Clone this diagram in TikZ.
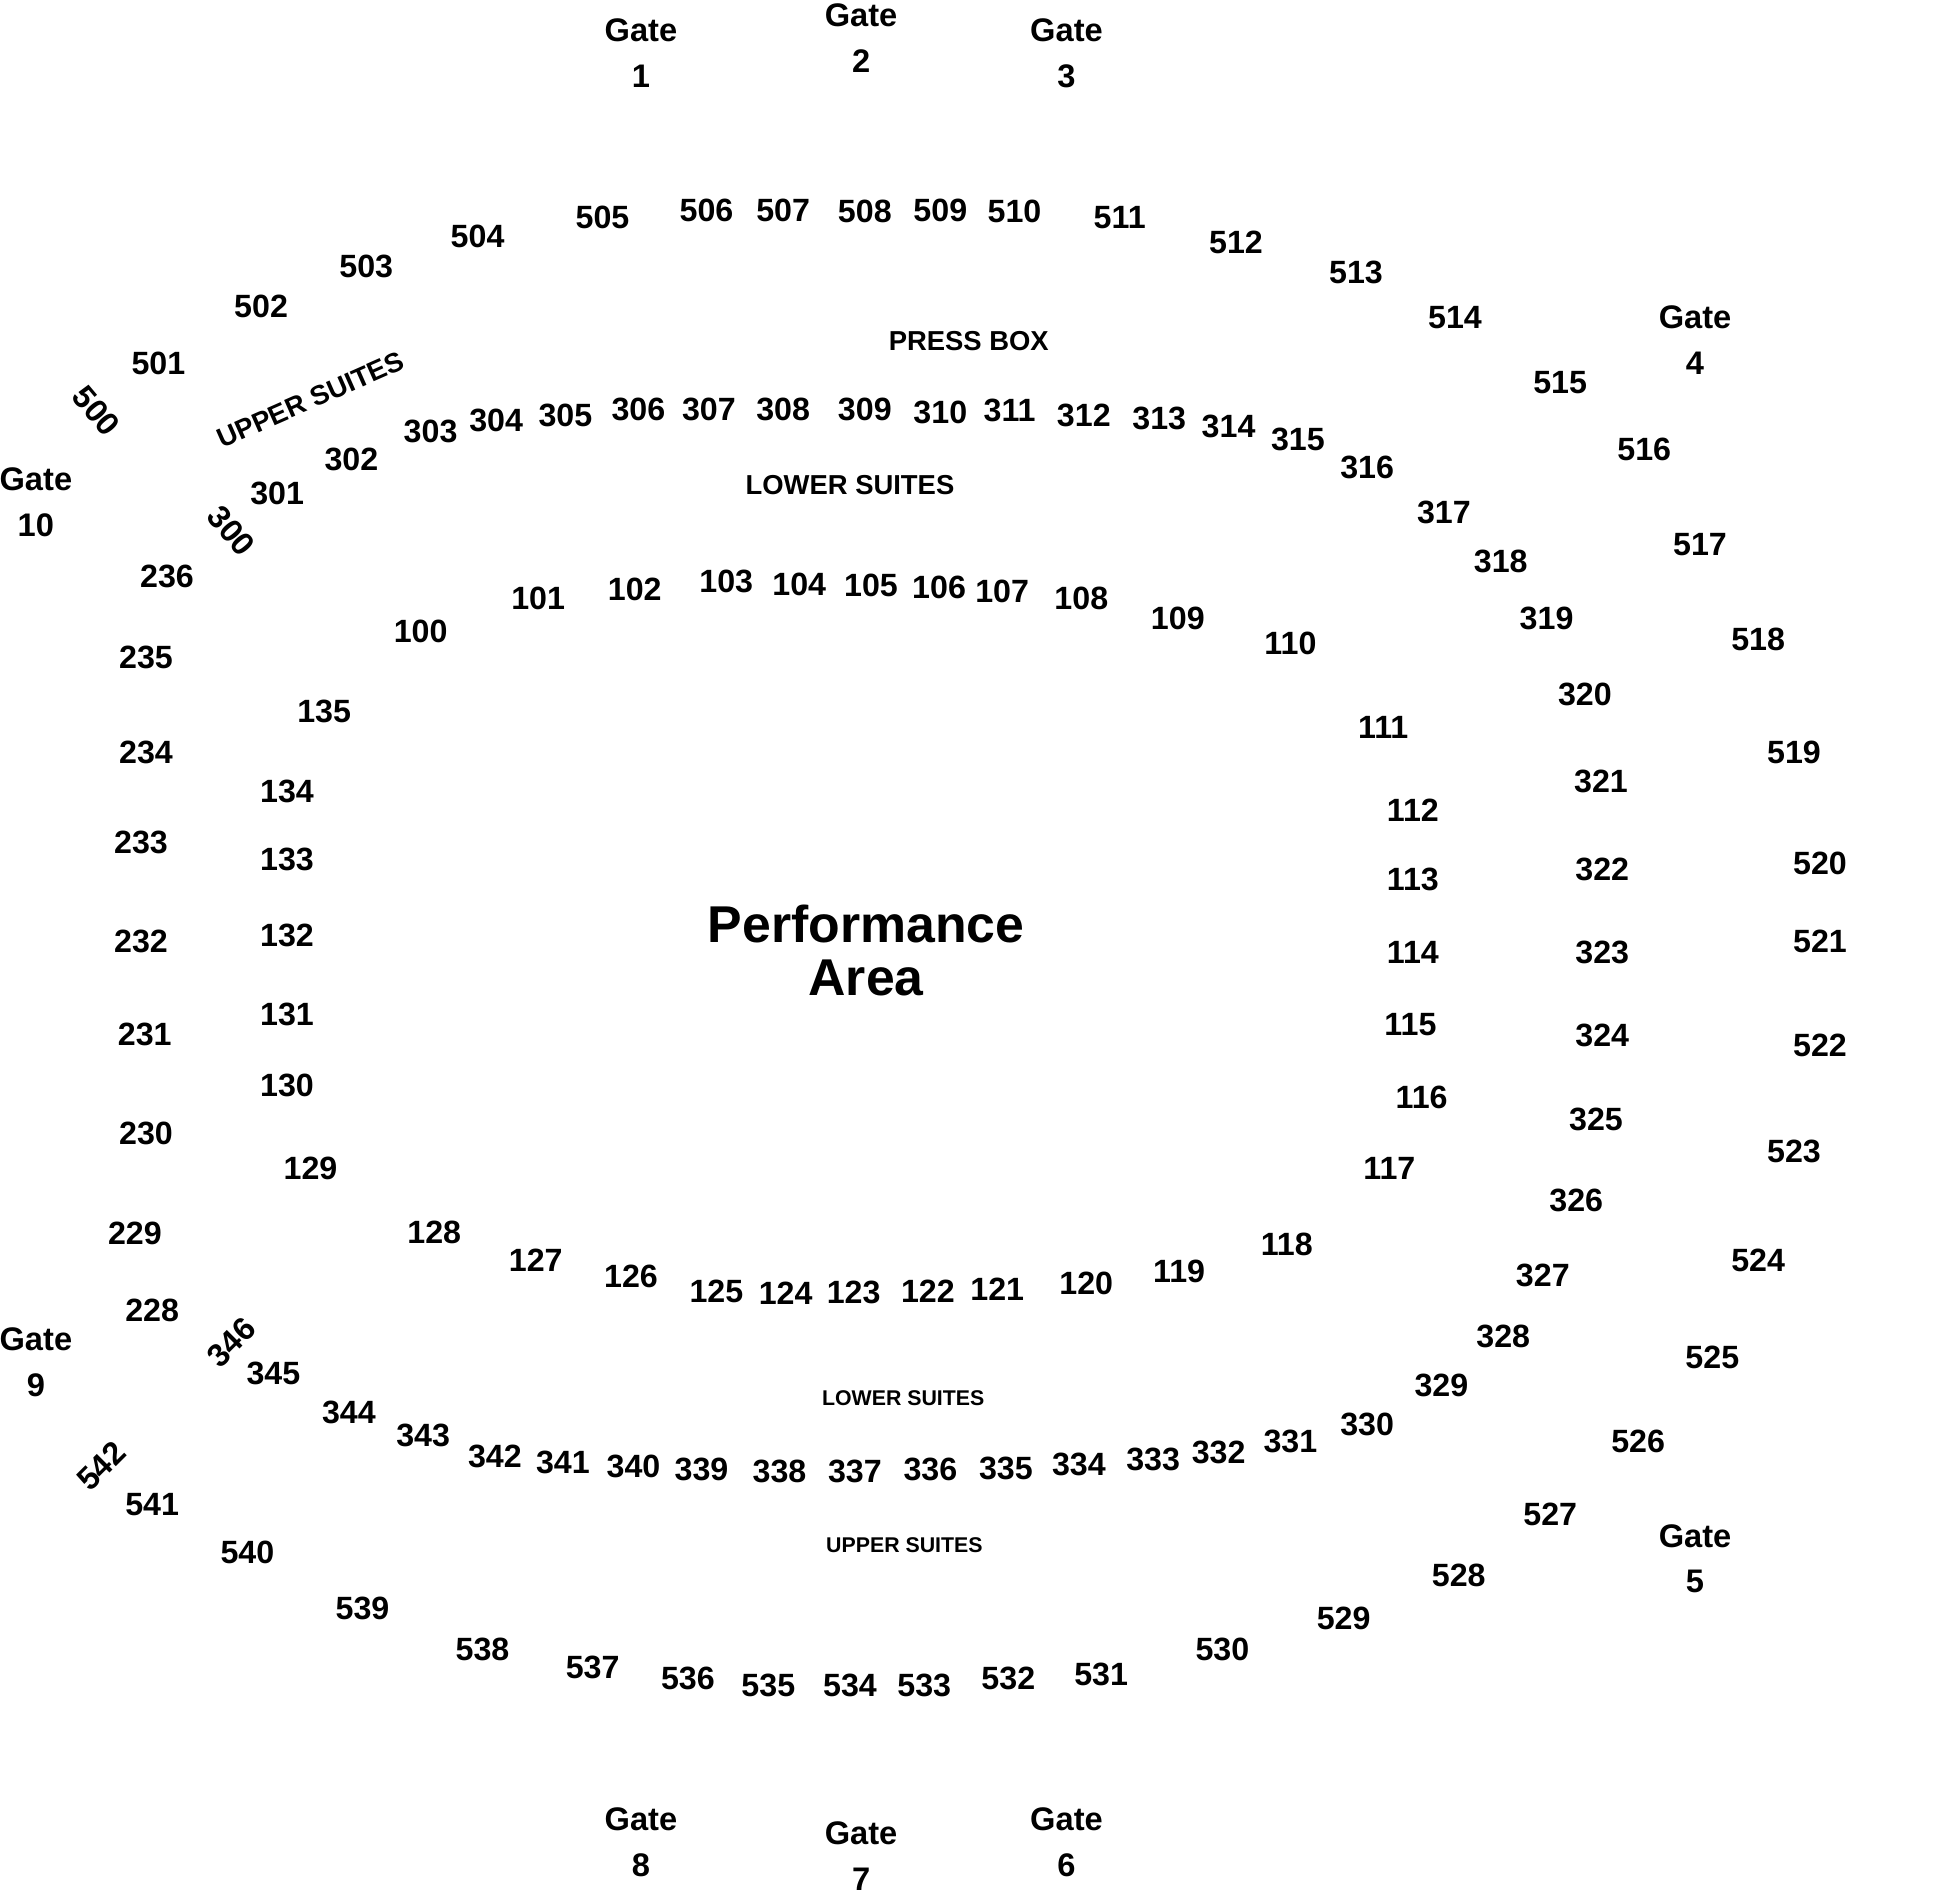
\documentclass[tikz,border=0pt]{standalone}
\usepackage{fontspec}
\setmainfont{Liberation Sans}
\usepackage{tikz}

\begin{document}
\begin{tikzpicture}[x=0.01cm,y=-0.01cm,
  sec/.style={font=\fontsize{7.4}{9}\selectfont\bfseries,inner sep=0pt},
  gate/.style={font=\fontsize{7.5}{10.5}\selectfont\bfseries,align=center,inner sep=0pt},
  suite/.style={font=\fontsize{6.3}{7}\selectfont\bfseries,inner sep=0pt},
  smallsuite/.style={font=\fontsize{4.9}{6}\selectfont\bfseries,inner sep=0pt},
  stage/.style={font=\fontsize{11.9}{12.2}\selectfont\bfseries,align=center,inner sep=0pt}]
 \useasboundingbox (0,0) rectangle (1568,1528);

 % gates
 \foreach \g/\x/\y in {1/518/43,2/696/31,3/862/43,4/1370/275,5/1370/1260,
                        6/862/1489,7/696/1500,8/518/1489,9/29/1101,10/29/406}
   \node[gate] (gate\g) at (\x,\y) {Gate\\\g};

 % 100 level
 \foreach \t/\x/\y in {100/340/510,101/435/484,102/513/476,103/587/470,104/646/472,
   105/704/473,106/759/475,107/810/478,108/874/484,109/952/500,110/1043/520,
   111/1118/588,112/1142/655,113/1142/711,114/1142/770,115/1140/828,116/1149/887,
   117/1123/944,118/1040/1006,119/953/1028,120/878/1037,121/806/1042,122/750/1044,
   123/690/1045,124/635/1045,125/579/1044,126/510/1032,127/433/1019,128/351/996,
   129/251/944,130/232/877,131/232/820,132/232/756,133/232/695,134/232/640,135/262/575}
   \node[sec] (s\t) at (\x,\y) {\t};

 % 200 level
 \foreach \t/\x/\y in {228/123/1059,229/109/997,230/118/916,231/117/836,232/114/761,
   233/114/681,234/118/608,235/118/531,236/135/466}
   \node[sec] (s\t) at (\x,\y) {\t};

 % 300 level
 \node[sec,rotate=-50] (s300) at (187,429) {300};
 \foreach \t/\x/\y in {301/224/399,302/284/371,303/348/349,304/401/340,305/457/336,
   306/516/331,307/573/331,308/633/331,309/699/331,310/760/333,311/816/332,
   312/876/336,313/937/338,314/993/345,315/1049/355,316/1105/378,317/1167/414,
   318/1213/454,319/1250/500,320/1281/561,321/1294/632,322/1295/703,323/1295/770,
   324/1295/837,325/1290/905,326/1274/970,327/1247/1031,328/1215/1080,329/1165/1120,
   330/1105/1151,331/1043/1165,332/985/1174,333/932/1180,334/872/1184,335/813/1187,
   336/752/1188,337/691/1189,338/630/1189,339/567/1188,340/512/1185,341/455/1182,
   342/400/1177,343/342/1160,344/282/1142,345/221/1110}
   \node[sec] (s\t) at (\x,\y) {\t};
 \node[sec,rotate=45] (s346) at (187,1085) {346};

 % 500 level
 \node[sec,rotate=-50] (s500) at (78,332) {500};
 \foreach \t/\x/\y in {501/128/294,502/211/248,503/296/215,504/386/191,505/487/176,
   506/571/170,507/633/170,508/699/171,509/760/170,510/820/171,511/905/176,
   512/999/196,513/1096/220,514/1176/257,515/1261/309,516/1329/363,517/1374/440,
   518/1421/517,519/1450/608,520/1471/698,521/1471/761,522/1471/845,523/1450/931,
   524/1421/1019,525/1384/1097,526/1324/1165,527/1253/1224,528/1179/1273,529/1086/1308,
   530/988/1333,531/890/1353,532/815/1357,533/747/1362,534/687/1362,535/621/1362,
   536/556/1357,537/479/1348,538/390/1333,539/293/1300,540/200/1255,541/123/1216}
   \node[sec] (s\t) at (\x,\y) {\t};
 \node[sec,rotate=45] (s542) at (82,1185) {542};

 % suites and stage
 \node[suite] (pressbox) at (783,276) {PRESS BOX};
 \node[suite] (lowertop) at (687,392) {LOWER SUITES};
 \node[suite,rotate=23.8] (uppertop) at (251,323) {UPPER SUITES};
 \node[smallsuite] (lowerbot) at (730,1130) {LOWER SUITES};
 \node[smallsuite] (upperbot) at (731,1249) {UPPER SUITES};
 \node[stage] (stage) at (700,768) {Performance\\Area};
\end{tikzpicture}
\end{document}
